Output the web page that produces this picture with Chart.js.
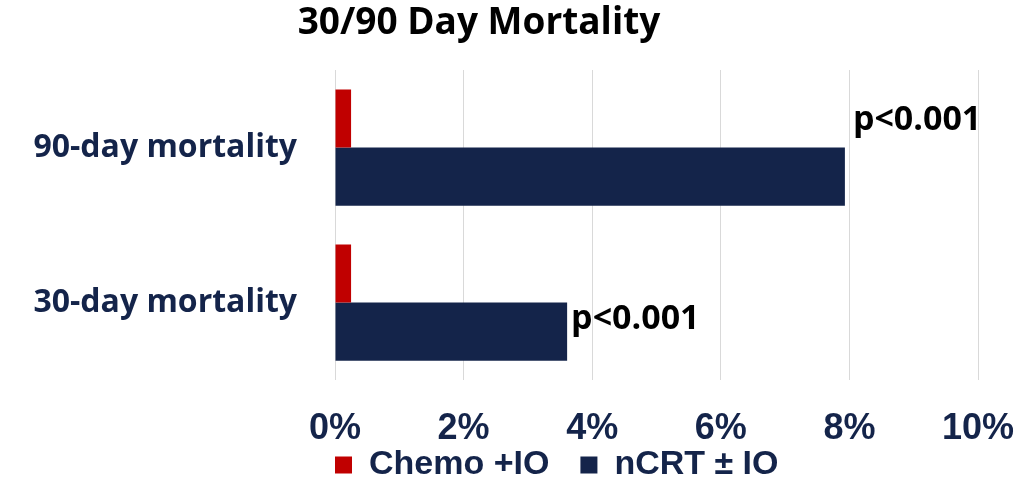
<!DOCTYPE html>
<html>
<head>
<meta charset="utf-8">
<script src="https://cdn.jsdelivr.net/npm/chart.js@4.4.1/dist/chart.umd.min.js"></script>
<style>
  html, body { margin: 0; padding: 0; background: #ffffff; }
  #wrap { width: 1024px; height: 502px; }
</style>
</head>
<body>
<div id="wrap"><canvas id="chartMortality"></canvas></div>
<script>
/* global Chart */
const categories = ['90-day mortality', '30-day mortality'];
const chemoIO = [0.25, 0.25];
const ncrtIO = [7.93, 3.61];
const pLabels = ['p<0.001', 'p<0.001'];
const xTicks = [0, 2, 4, 6, 8, 10];
const chartTitle = '30/90 Day Mortality';

const NAVY = '#14244a';
const RED = '#c00000';
const ARIAL = '"Liberation Sans", Arial, sans-serif';
const SANS = '"Open Sans", sans-serif';

// title sits a bit left of the canvas centre in the original
const titlePlugin = {
    id: 'offsetTitle',
    afterDraw(chart) {
        const ctx = chart.ctx;
        ctx.save();
        ctx.fillStyle = '#000000';
        ctx.font = 'bold 37px ' + SANS;
        ctx.textAlign = 'center';
        ctx.textBaseline = 'middle';
        ctx.fillText(chartTitle, 479, 23);
        ctx.restore();
    }
};

// p-value text next to the end of the nCRT bars
const pValuePlugin = {
    id: 'pValues',
    afterDatasetsDraw(chart) {
        const meta = chart.getDatasetMeta(1);
        const ctx = chart.ctx;
        ctx.save();
        ctx.fillStyle = '#000000';
        ctx.font = 'bold 34px ' + SANS;
        ctx.textBaseline = 'middle';
        ctx.textAlign = 'left';
        meta.data.forEach((bar, i) => {
            const top = bar.y - bar.height / 2;
            if (i === 0) {
                ctx.fillText(pLabels[i], bar.x + 8, top - 27);
            } else {
                ctx.fillText(pLabels[i], bar.x + 4, bar.y - 12);
            }
        });
        ctx.restore();
    }
};

// legend: fixed reserved height, then lined up with the plot's left edge
const legendShift = {
    id: 'legendShift',
    beforeLayout(chart) {
        const lg = chart.legend;
        if (lg && !lg.fixedFit) {
            const fit = lg.fit;
            lg.fit = function () { fit.call(this); this.height = 40; };
            lg.fixedFit = true;
        }
    },
    afterLayout(chart) {
        const lg = chart.legend;
        const pad = lg.options.labels.padding;
        lg.left = chart.chartArea.left - pad;
        lg.top = 465 - pad - 17;
        lg.bottom = chart.height;
        lg.height = lg.bottom - lg.top;
    }
};

new Chart(document.getElementById('chartMortality'), {
    type: 'bar',
    data: {
        labels: categories,
        datasets: [{
            label: 'Chemo +IO',
            data: chemoIO,
            backgroundColor: RED,
            categoryPercentage: 0.75,
            barPercentage: 1.0
        }, {
            label: 'nCRT \u00b1 IO',
            data: ncrtIO,
            backgroundColor: NAVY,
            categoryPercentage: 0.75,
            barPercentage: 1.0
        }]
    },
    options: {
        indexAxis: 'y',
        responsive: true,
        maintainAspectRatio: false,
        animation: false,
        layout: { padding: { left: 30, right: 46, top: 70, bottom: 12 } },
        plugins: {
            title: { display: false },
            legend: {
                position: 'bottom',
                align: 'start',
                fullSize: false,
                labels: {
                    color: NAVY,
                    font: { family: ARIAL, size: 34, weight: 'bold' },
                    boxWidth: 17,
                    boxHeight: 17,
                    padding: 31
                }
            },
            tooltip: { enabled: false }
        },
        scales: {
            x: {
                min: 0,
                max: 10,
                afterBuildTicks: (axis) => { axis.ticks = xTicks.map(v => ({ value: v })); },
                afterFit: (axis) => {
                    axis.height = 70;
                    axis.paddingLeft = 0;
                    axis.paddingRight = 0;
                },
                grid: { color: '#d9d9d9', drawTicks: false },
                border: { display: false },
                ticks: {
                    color: NAVY,
                    padding: 27,
                    font: { family: ARIAL, size: 36, weight: 'bold' },
                    callback: (v) => v + '%'
                }
            },
            y: {
                afterFit: (axis) => { axis.width = 305; },
                grid: { display: false },
                border: { display: false },
                ticks: {
                    color: NAVY,
                    padding: 30,
                    font: { family: SANS, size: 32, weight: 'bold' }
                }
            }
        }
    },
    plugins: [pValuePlugin, titlePlugin, legendShift]
});
</script>
</body>
</html>
